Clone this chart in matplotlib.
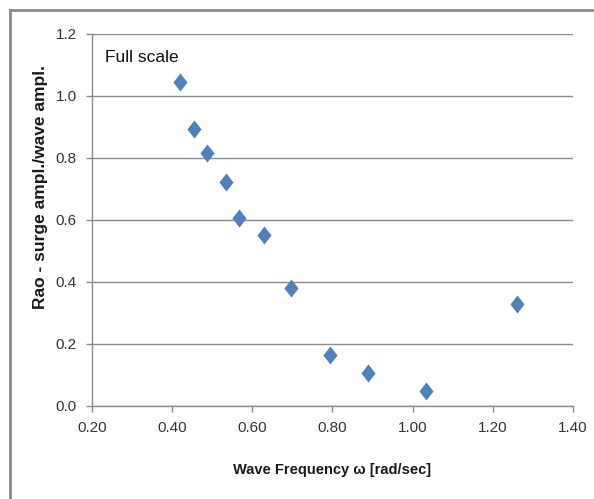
import matplotlib
matplotlib.use("Agg")
import matplotlib.pyplot as plt
from matplotlib.path import Path
from matplotlib.lines import Line2D

freq = [0.42, 0.454, 0.487, 0.534, 0.567, 0.629, 0.696, 0.794, 0.889, 1.033, 1.260]
rao = [1.045, 0.893, 0.816, 0.723, 0.606, 0.551, 0.381, 0.165, 0.106, 0.048, 0.329]
xticks = [0.20, 0.40, 0.60, 0.80, 1.00, 1.20, 1.40]
yticks = [0.0, 0.2, 0.4, 0.6, 0.8, 1.0, 1.2]

FONT = ['Liberation Sans', 'DejaVu Sans']
plt.rcParams['font.family'] = FONT

fig = plt.figure(figsize=(5.94, 4.99), dpi=100)
ax = fig.add_axes([0.1549, 0.1864, 0.8097, 0.7455])

diamond = Path([(0, 1), (0.78, 0), (0, -1), (-0.78, 0), (0, 1)],
               [Path.MOVETO, Path.LINETO, Path.LINETO, Path.LINETO, Path.CLOSEPOLY])
ax.plot(freq, rao, linestyle='none', marker=diamond, markersize=13,
        color='#4F81BD', markeredgewidth=0, zorder=3)

ax.set_xlim(0.2, 1.4)
ax.set_ylim(0.0, 1.2)
ax.set_xticks(xticks)
ax.set_xticklabels([f"{v:.2f}" for v in xticks])
ax.set_yticks(yticks)
ax.set_yticklabels([f"{v:.1f}" for v in yticks])
ax.yaxis.grid(True, color='#8c8c8c', linewidth=1)
ax.set_axisbelow(True)
for s in ['top', 'right']:
    ax.spines[s].set_visible(False)
for s in ['left', 'bottom']:
    ax.spines[s].set_color('#8c8c8c')
    ax.spines[s].set_linewidth(1)
ax.tick_params(axis='both', direction='out', length=4, width=1, color='#8c8c8c',
               labelsize=11, labelcolor='#333333', pad=7)

ax.set_xlabel('Wave Frequency ω [rad/sec]', fontsize=10.5, fontweight='bold',
              color='#1a1a1a', labelpad=20)
ax.set_ylabel('Rao - surge ampl./wave ampl.', fontsize=12.5, fontweight='bold',
              color='#1a1a1a')
ax.yaxis.set_label_coords(-0.108, 0.589)
ax.yaxis.label.set_va('center')

ax.text(0.232, 1.123, 'Full scale', fontsize=12.5, color='#111111',
        ha='left', va='center')

fig.add_artist(Line2D([10/594, 1.0], [1 - 10/499, 1 - 10/499],
                      transform=fig.transFigure, color='#8a8a8a', linewidth=2))
fig.add_artist(Line2D([10/594, 10/594], [0, 1 - 10/499],
                      transform=fig.transFigure, color='#8a8a8a', linewidth=2))

fig.savefig('out.png', dpi=100, facecolor='white')
